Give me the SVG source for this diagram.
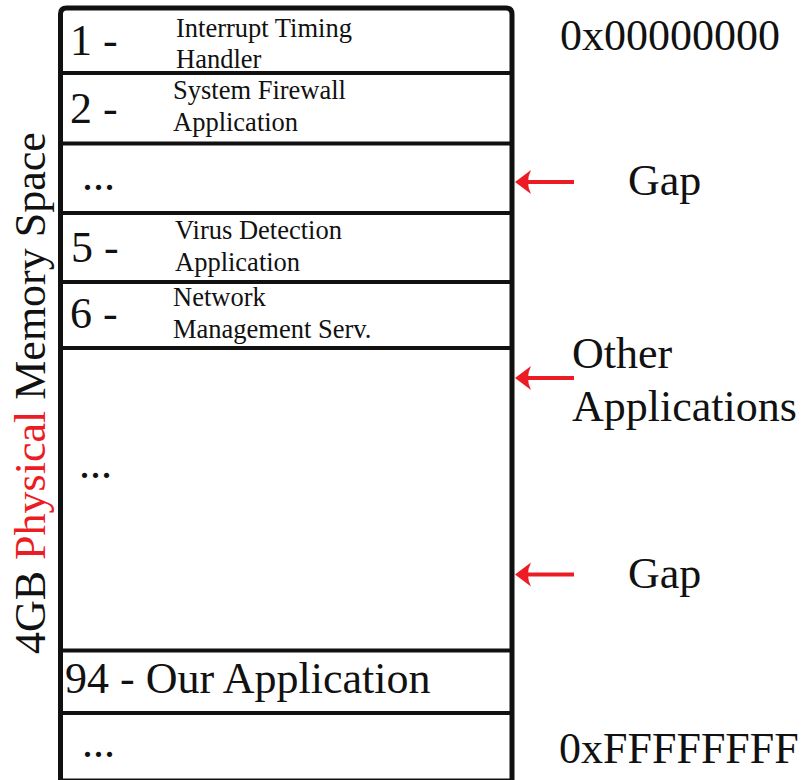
<svg xmlns="http://www.w3.org/2000/svg" width="804" height="780" viewBox="0 0 804 780">
  <style>
    text { font-family: "Liberation Serif", "Times New Roman", serif; fill: #111; }
    .big { font-size: 44px; }
    .small { font-size: 26.5px; }
    .red { fill: #ec1c24; }
    .divider { stroke: #111; stroke-width: 4; fill: none; }
    .frame { stroke: #111; stroke-width: 5; fill: none; }
    .pointer { stroke: #ec1c24; stroke-width: 4; fill: none; }
  </style>
  <defs>
    <marker id="arrowhead" markerUnits="userSpaceOnUse" viewBox="0 0 16 26" refX="5" refY="13" markerWidth="16" markerHeight="26" orient="auto">
      <path d="M16,13 L0,1 Q6,13 0,25 Z" fill="#ec1c24"/>
    </marker>
  </defs>

  <rect width="804" height="780" fill="#fff"/>

  <!-- side caption -->
  <text class="big" transform="translate(45,654) rotate(-90)">4GB <tspan class="red">Physical</tspan> Memory Space</text>

  <!-- memory blocks -->
  <g id="block-1">
    <text class="big" x="70" y="55">1 -</text>
    <text class="small" x="176" y="37">Interrupt Timing</text>
    <text class="small" x="176" y="68">Handler</text>
  </g>
  <g id="block-2">
    <text class="big" x="70" y="123">2 -</text>
    <text class="small" x="173" y="99">System Firewall</text>
    <text class="small" x="173" y="131">Application</text>
  </g>
  <g id="block-gap-1">
    <text class="big" x="82" y="190">...</text>
  </g>
  <g id="block-5">
    <text class="big" x="71" y="262">5 -</text>
    <text class="small" x="175" y="239">Virus Detection</text>
    <text class="small" x="175" y="271">Application</text>
  </g>
  <g id="block-6">
    <text class="big" x="70" y="328">6 -</text>
    <text class="small" x="173" y="306">Network</text>
    <text class="small" x="173" y="338">Management Serv.</text>
  </g>
  <g id="block-others">
    <text class="big" x="79" y="478">...</text>
  </g>
  <g id="block-94">
    <text class="big" x="65" y="693">94 - Our Application</text>
  </g>
  <g id="block-tail">
    <text class="big" x="82" y="757">...</text>
  </g>

  <!-- outline and block boundaries -->
  <g id="frame">
    <path class="frame" d="M60.5,781 V14 Q60.5,8 66.5,8 H506 Q512,8 512,14 V781 Z"/>
    <line class="divider" x1="60" y1="73" x2="512" y2="73"/>
    <line class="divider" x1="60" y1="143.5" x2="512" y2="143.5"/>
    <line class="divider" x1="60" y1="213" x2="512" y2="213"/>
    <line class="divider" x1="60" y1="282" x2="512" y2="282"/>
    <line class="divider" x1="60" y1="348" x2="512" y2="348"/>
    <line class="divider" x1="60" y1="650.5" x2="512" y2="650.5"/>
    <line class="divider" x1="60" y1="713" x2="512" y2="713"/>
  </g>

  <!-- address labels -->
  <g id="addr-start"><text class="big" x="560" y="50">0x00000000</text></g>
  <g id="addr-end"><text class="big" x="559" y="763">0xFFFFFFFF</text></g>

  <!-- annotations -->
  <g id="note-gap-1"><text class="big" x="628" y="195">Gap</text></g>
  <g id="note-others">
    <text class="big" x="572" y="368">Other</text>
    <text class="big" x="572" y="421">Applications</text>
  </g>
  <g id="note-gap-2"><text class="big" x="628" y="588">Gap</text></g>

  <!-- pointers -->
  <g id="connectors">
    <line class="pointer" x1="574" y1="182" x2="526" y2="182" marker-end="url(#arrowhead)"/>
    <line class="pointer" x1="574" y1="378" x2="526" y2="378" marker-end="url(#arrowhead)"/>
    <line class="pointer" x1="574" y1="574.5" x2="526" y2="574.5" marker-end="url(#arrowhead)"/>
  </g>
</svg>
